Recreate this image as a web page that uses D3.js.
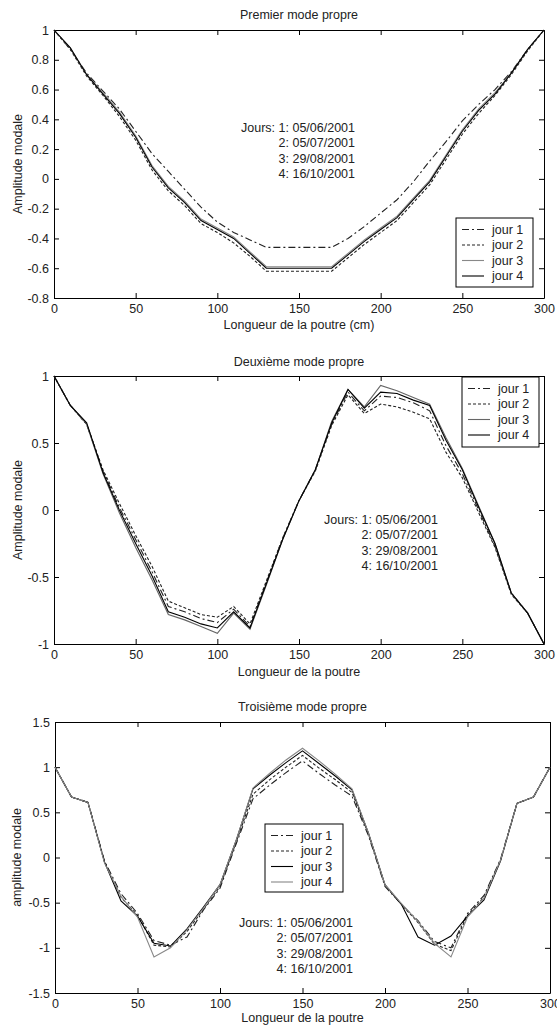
<!DOCTYPE html>
<html>
<head>
<meta charset="utf-8">
<script src="https://cdn.jsdelivr.net/npm/d3@7"></script>
<style>
  body { margin: 0; background: #fff; }
  text { font-family: Arial, "Liberation Sans", sans-serif; font-size: 12.5px; fill: #222; }
</style>
</head>
<body>
<svg id="fig" width="557" height="1029"></svg>
<script>
// positions le long de la poutre (cm)
const abscisses = [0, 10, 20, 30, 40, 50, 60, 70, 80, 90, 100, 110, 120, 130, 140, 150,
                   160, 170, 180, 190, 200, 210, 220, 230, 240, 250, 260, 270, 280, 290, 300];

const xTicks = [0, 50, 100, 150, 200, 250, 300];
const yTicksMode1 = [-0.8, -0.6, -0.4, -0.2, 0, 0.2, 0.4, 0.6, 0.8, 1];
const yTicksMode2 = [-1, -0.5, 0, 0.5, 1];
const yTicksMode3 = [-1.5, -1, -0.5, 0, 0.5, 1, 1.5];

const jourNames = ["jour 1", "jour 2", "jour 3", "jour 4"];
const dateNotes = ["Jours: 1: 05/06/2001", "2: 05/07/2001", "3: 29/08/2001", "4: 16/10/2001"];
const titles = ["Premier mode propre", "Deuxième mode propre", "Troisième mode propre"];
const xTitles = ["Longueur de la poutre (cm)", "Longueur de la poutre", "Longueur de la poutre"];
const yTitles = ["Amplitude modale", "Amplitude modale", "amplitude modale"];

// premier mode
const mode1Jour1 = [1.00, 0.87, 0.71, 0.59, 0.47, 0.32, 0.17, 0.05, -0.07, -0.19, -0.29, -0.36, -0.41, -0.46, -0.46, -0.46,
                    -0.46, -0.46, -0.40, -0.32, -0.23, -0.14, -0.02, 0.12, 0.25, 0.39, 0.50, 0.60, 0.72, 0.87, 1.00];
const mode1Jour2 = [1.00, 0.87, 0.69, 0.56, 0.42, 0.26, 0.06, -0.08, -0.18, -0.30, -0.36, -0.43, -0.52, -0.62, -0.62, -0.62,
                    -0.62, -0.62, -0.53, -0.44, -0.36, -0.28, -0.16, -0.04, 0.13, 0.30, 0.44, 0.56, 0.70, 0.86, 1.00];
const mode1Jour3 = [1.00, 0.88, 0.70, 0.58, 0.45, 0.29, 0.09, -0.05, -0.15, -0.27, -0.33, -0.39, -0.49, -0.59, -0.59, -0.59,
                    -0.59, -0.59, -0.50, -0.41, -0.33, -0.25, -0.13, -0.01, 0.16, 0.33, 0.47, 0.58, 0.71, 0.87, 1.00];
const mode1Jour4 = [1.00, 0.88, 0.70, 0.57, 0.44, 0.28, 0.08, -0.06, -0.16, -0.28, -0.34, -0.40, -0.50, -0.60, -0.60, -0.60,
                    -0.60, -0.60, -0.51, -0.42, -0.34, -0.26, -0.14, -0.02, 0.15, 0.32, 0.46, 0.57, 0.71, 0.87, 1.00];

// deuxième mode
const mode2Jour1 = [1.00, 0.78, 0.64, 0.29, 0.02, -0.22, -0.46, -0.72, -0.76, -0.81, -0.84, -0.74, -0.87, -0.54, -0.21, 0.07,
                    0.30, 0.64, 0.88, 0.74, 0.85, 0.84, 0.80, 0.74, 0.48, 0.27, 0.00, -0.27, -0.62, -0.77, -1.00];
const mode2Jour2 = [1.00, 0.78, 0.64, 0.30, 0.05, -0.19, -0.42, -0.68, -0.73, -0.78, -0.80, -0.72, -0.85, -0.53, -0.21, 0.07,
                    0.29, 0.63, 0.86, 0.72, 0.79, 0.77, 0.73, 0.68, 0.43, 0.24, -0.02, -0.28, -0.63, -0.77, -1.00];
const mode2Jour3 = [1.00, 0.78, 0.64, 0.27, -0.02, -0.28, -0.52, -0.78, -0.82, -0.87, -0.92, -0.77, -0.89, -0.56, -0.22, 0.07,
                    0.30, 0.66, 0.90, 0.77, 0.93, 0.89, 0.84, 0.79, 0.54, 0.31, 0.03, -0.25, -0.62, -0.77, -1.00];
const mode2Jour4 = [1.00, 0.78, 0.65, 0.28, 0.00, -0.25, -0.49, -0.76, -0.80, -0.85, -0.88, -0.76, -0.88, -0.55, -0.22, 0.07,
                    0.30, 0.65, 0.90, 0.76, 0.88, 0.87, 0.82, 0.78, 0.52, 0.30, 0.02, -0.25, -0.62, -0.77, -1.00];

// troisième mode
const mode3Jour1 = [1.00, 0.67, 0.61, -0.04, -0.40, -0.62, -0.92, -0.97, -0.88, -0.58, -0.34, 0.16, 0.65, 0.80, 0.94, 1.07,
                    0.93, 0.80, 0.68, 0.24, -0.32, -0.52, -0.70, -0.93, -1.00, -0.62, -0.42, -0.02, 0.60, 0.67, 1.00];
const mode3Jour2 = [1.00, 0.67, 0.61, -0.05, -0.44, -0.64, -0.97, -0.99, -0.82, -0.57, -0.32, 0.18, 0.70, 0.86, 1.00, 1.13,
                    0.99, 0.86, 0.72, 0.26, -0.31, -0.52, -0.72, -0.96, -1.03, -0.64, -0.44, -0.03, 0.60, 0.67, 1.00];
const mode3Jour3 = [1.00, 0.67, 0.61, -0.05, -0.48, -0.65, -0.95, -0.98, -0.79, -0.55, -0.30, 0.20, 0.76, 0.91, 1.05, 1.18,
                    1.04, 0.90, 0.75, 0.27, -0.30, -0.52, -0.88, -0.97, -0.87, -0.65, -0.47, -0.04, 0.60, 0.67, 1.00];
const mode3Jour4 = [1.00, 0.67, 0.61, -0.06, -0.43, -0.66, -1.10, -1.00, -0.80, -0.56, -0.30, 0.20, 0.77, 0.93, 1.08, 1.21,
                    1.07, 0.92, 0.76, 0.27, -0.30, -0.51, -0.71, -0.95, -1.10, -0.66, -0.45, -0.03, 0.60, 0.67, 1.00];

const dashes = ["7,3,2,3", "3,2", null, null];

const panels = [
  { series: [mode1Jour1, mode1Jour2, mode1Jour3, mode1Jour4], yDomain: [-0.8, 1], yTicks: yTicksMode1,
    left: 54, right: 544, top: 30, bottom: 298, colors: ["#222", "#222", "#888", "#000"],
    legend: { x: 456, y: 218, w: 77, h: 69 }, note: { x: 355, y: 132 },
    titleY: 19, xTitleY: 329, yTitleX: 18 },
  { series: [mode2Jour1, mode2Jour2, mode2Jour3, mode2Jour4], yDomain: [-1, 1], yTicks: yTicksMode2,
    left: 54, right: 544, top: 376, bottom: 644, colors: ["#222", "#222", "#666", "#000"],
    legend: { x: 462, y: 377, w: 77, h: 70 }, note: { x: 438, y: 524 },
    titleY: 366, xTitleY: 676, yTitleX: 18 },
  { series: [mode3Jour1, mode3Jour2, mode3Jour3, mode3Jour4], yDomain: [-1.5, 1.5], yTicks: yTicksMode3,
    left: 55, right: 550, top: 722, bottom: 993, colors: ["#222", "#222", "#000", "#888"],
    legend: { x: 265, y: 824, w: 78, h: 68 }, note: { x: 353, y: 927 },
    titleY: 711, xTitleY: 1022, yTitleX: 17 }
];

const svg = d3.select("#fig");

panels.forEach((p, k) => {
  const x = d3.scaleLinear().domain([0, 300]).range([p.left, p.right]);
  const y = d3.scaleLinear().domain(p.yDomain).range([p.bottom, p.top]);
  const g = svg.append("g");
  const fmt = d => String(d);

  // axes, ticks vers l'intérieur
  g.append("g").attr("transform", `translate(0,${p.bottom})`)
    .call(d3.axisBottom(x).tickValues(xTicks).tickSizeInner(-5).tickSizeOuter(0).tickPadding(6).tickFormat(fmt));
  g.append("g").attr("transform", `translate(0,${p.top})`)
    .call(d3.axisTop(x).tickValues(xTicks).tickSizeInner(-5).tickSizeOuter(0).tickFormat(""));
  g.append("g").attr("transform", `translate(${p.left},0)`)
    .call(d3.axisLeft(y).tickValues(p.yTicks).tickSizeInner(-5).tickSizeOuter(0).tickPadding(5).tickFormat(fmt));
  g.append("g").attr("transform", `translate(${p.right},0)`)
    .call(d3.axisRight(y).tickValues(p.yTicks).tickSizeInner(-5).tickSizeOuter(0).tickFormat(""));
  g.selectAll(".domain").attr("stroke", "#000");
  g.selectAll(".tick line").attr("stroke", "#000");
  g.selectAll(".tick text").attr("font-family", null).attr("font-size", null).attr("fill", null);

  // courbes
  const line = d3.line().x((d, i) => x(abscisses[i])).y(d => y(d));
  p.series.forEach((s, i) => {
    g.append("path").datum(s)
      .attr("d", line)
      .attr("fill", "none")
      .attr("stroke", p.colors[i])
      .attr("stroke-width", 1.1)
      .attr("stroke-dasharray", dashes[i]);
  });

  // titres
  const cx = (p.left + p.right) / 2;
  g.append("text").attr("x", cx).attr("y", p.titleY).attr("text-anchor", "middle").text(titles[k]);
  g.append("text").attr("x", cx).attr("y", p.xTitleY).attr("text-anchor", "middle").text(xTitles[k]);
  g.append("text")
    .attr("transform", `translate(${p.yTitleX},${(p.top + p.bottom) / 2}) rotate(-90)`)
    .attr("dy", "0.35em")
    .attr("text-anchor", "middle").text(yTitles[k]);

  // dates des mesures
  g.append("g").selectAll("text").data(dateNotes).join("text")
    .attr("x", p.note.x)
    .attr("y", (d, i) => p.note.y + i * 15.3)
    .attr("text-anchor", "end")
    .text(d => d);

  // légende
  const lg = g.append("g").attr("transform", `translate(${p.legend.x},${p.legend.y})`);
  lg.append("rect").attr("width", p.legend.w).attr("height", p.legend.h)
    .attr("fill", "#fff").attr("stroke", "#000");
  jourNames.forEach((name, i) => {
    const yy = 11.5 + i * 15.5;
    lg.append("line").attr("x1", 6).attr("x2", 28).attr("y1", yy).attr("y2", yy)
      .attr("stroke", p.colors[i]).attr("stroke-width", 1.1).attr("stroke-dasharray", dashes[i]);
    lg.append("text").attr("x", 36).attr("y", yy).attr("dy", "0.35em").text(name);
  });
});
</script>
</body>
</html>
